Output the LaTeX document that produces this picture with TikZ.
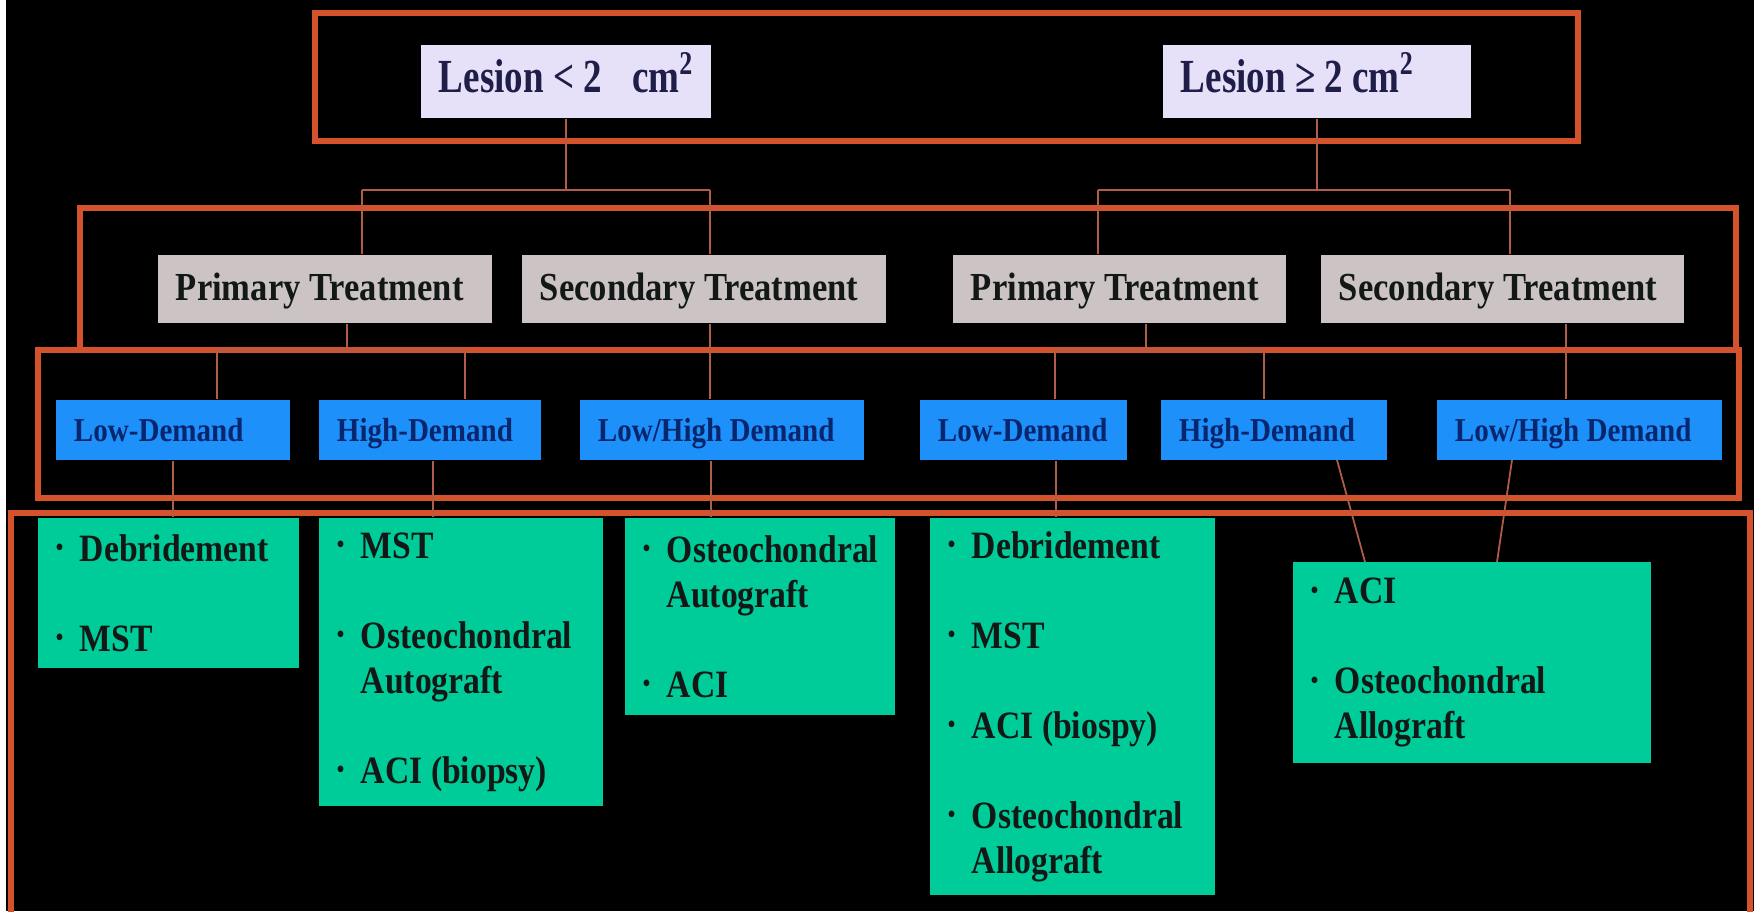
\documentclass[tikz,border=0pt]{standalone}
\usepackage{fontspec}
\setmainfont{Liberation Serif}[FakeStretch=0.87]
\newfontfamily\narrowfont{Liberation Serif}[FakeStretch=0.78]
\definecolor{frm}{RGB}{212,82,44}
\definecolor{lnk}{RGB}{176,92,72}
\definecolor{lav}{RGB}{230,224,248}
\definecolor{gry}{RGB}{204,196,196}
\definecolor{dblue}{RGB}{30,144,250}
\definecolor{opg}{RGB}{0,204,153}
\definecolor{navy}{RGB}{30,30,72}
\definecolor{dtext}{RGB}{8,38,110}
\definecolor{ink}{RGB}{18,24,22}
\tikzstyle{fr}=[draw=frm, line width=1.6pt]
\tikzstyle{ln}=[draw=lnk, line width=0.5pt]
\tikzstyle{bx}=[shape=rectangle, align=flush left, inner xsep=0.18cm, inner ysep=0pt]
\tikzstyle{lz}=[bx, fill=lav, text=navy, minimum height=0.73cm, text height=1.6ex, text depth=0.2ex, font=\narrowfont\fontsize{13.5}{15}\selectfont\bfseries]
\tikzstyle{tr}=[bx, fill=gry, text=ink, minimum height=0.68cm, text height=1.6ex, text depth=0.2ex, font=\fontsize{11.3}{13}\selectfont\bfseries]
\tikzstyle{dm}=[bx, fill=dblue, text=dtext, minimum height=0.6cm, text height=1.6ex, text depth=0.2ex, font=\fontsize{9.5}{11}\selectfont\bfseries]
\tikzstyle{op}=[bx, fill=opg, text=ink, font=\fontsize{11}{12.8}\selectfont\bfseries]
\newcommand{\itm}{\makebox[0.24cm][l]{\raisebox{0.3ex}{\scriptsize\textbullet}}}
\newcommand{\gap}{\\[12.8pt]}

\begin{document}
\begin{tikzpicture}[x=0.01cm, y=-0.01cm]
\useasboundingbox (0,0) rectangle (1754,911);
\fill[black] (0,0) rectangle (1754,911);
\fill[white] (0,0) rectangle (6,911);
% frames
\draw[fr] (315,13) rectangle (1578,141);
\draw[fr] (80,208) rectangle (1736,350);
\draw[fr] (38,350) rectangle (1739,498);
\draw[fr] (11,930) -- (11,513) -- (1750,513) -- (1750,930);
% lesion size
\draw (566,81.5) node[lz, text width=2.54cm](lz1) {\mbox{Lesion < 2\hspace{0.3cm}cm\textsuperscript{2}}};
\draw (1317,81.5) node[lz, text width=2.72cm](lz2) {\mbox{Lesion ≥ 2 cm\textsuperscript{2}}};
% treatment
\draw (325,289) node[tr, text width=2.98cm](tr1) {Primary Treatment};
\draw (704,289) node[tr, text width=3.28cm](tr2) {Secondary Treatment};
\draw (1119.5,289) node[tr, text width=2.97cm](tr3) {Primary Treatment};
\draw (1502.5,289) node[tr, text width=3.27cm](tr4) {Secondary Treatment};
% demand
\draw (173,430) node[dm, text width=1.98cm](dm1) {Low-Demand};
\draw (430,430) node[dm, text width=1.86cm](dm2) {High-Demand};
\draw (722,430) node[dm, text width=2.48cm](dm3) {Low/High Demand};
\draw (1023.5,430) node[dm, text width=1.71cm](dm4) {Low-Demand};
\draw (1274,430) node[dm, text width=1.90cm](dm5) {High-Demand};
\draw (1579.5,430) node[dm, text width=2.49cm](dm6) {Low/High Demand};
% options
\draw (168.5,593) node[op, text width=2.25cm, minimum height=1.50cm](op1)
  {\itm Debridement\gap \itm MST};
\draw (461,662) node[op, text width=2.48cm, minimum height=2.88cm](op2)
  {\itm MST\gap \itm Osteochondral\\ \hspace*{0.24cm}Autograft\gap \itm ACI (biopsy)};
\draw (760,616.5) node[op, text width=2.34cm, minimum height=1.97cm](op3)
  {\itm Osteochondral\\ \hspace*{0.24cm}Autograft\gap \itm ACI};
\draw (1072.5,706.5) node[op, text width=2.49cm, minimum height=3.77cm](op4)
  {\itm Debridement\gap \itm MST\gap \itm ACI (biospy)\gap \itm Osteochondral\\ \hspace*{0.24cm}Allograft};
\draw (1472,662.5) node[op, text width=3.22cm, minimum height=2.01cm](op5)
  {\itm ACI\gap \itm Osteochondral\\ \hspace*{0.24cm}Allograft};
% connectors
\coordinate (j1) at (362,190);
\coordinate (j2) at (710,190);
\coordinate (j3) at (1098,190);
\coordinate (j4) at (1510,190);
\draw[ln] (lz1) -- (lz1 |- j1);
\draw[ln] (j1) -- (j2);
\draw[ln] (j1) -- (j1 |- tr1.north);
\draw[ln] (j2) -- (j2 |- tr2.north);
\draw[ln] (lz2) -- (lz2 |- j3);
\draw[ln] (j3) -- (j4);
\draw[ln] (j3) -- (j3 |- tr3.north);
\draw[ln] (j4) -- (j4 |- tr4.north);
\coordinate (m1) at (347,350);
\coordinate (m2) at (217,350);
\coordinate (m3) at (465,350);
\coordinate (m4) at (1146,350);
\coordinate (m5) at (1055,350);
\coordinate (m6) at (1264,350);
\draw[ln] (m1 |- tr1.south) -- (m1);
\draw[ln] (m2) -- (m3);
\draw[ln] (m2) -- (m2 |- dm1.north);
\draw[ln] (m3) -- (m3 |- dm2.north);
\draw[ln] (j2 |- tr2.south) -- (j2 |- dm3.north);
\draw[ln] (m4 |- tr3.south) -- (m4);
\draw[ln] (m5) -- (m6);
\draw[ln] (m5) -- (m5 |- dm4.north);
\draw[ln] (m6) -- (m6 |- dm5.north);
\draw[ln] (1566,0 |- tr4.south) -- (1566,0 |- dm6.north);
\coordinate (k1) at (711,0);
\coordinate (k2) at (1056,0);
\draw[ln] (dm1.south) -- (dm1.south |- op1.north);
\draw[ln] (433,0 |- dm2.south) -- (433,0 |- op2.north);
\draw[ln] (k1 |- dm3.south) -- (k1 |- op3.north);
\draw[ln] (k2 |- dm4.south) -- (k2 |- op4.north);
\coordinate (h1) at (1337,460);
\coordinate (h2) at (1365,562);
\coordinate (h3) at (1512,460);
\coordinate (h4) at (1497,562);
\draw[ln] (h1) -- (h2);
\draw[ln] (h3) -- (h4);
\end{tikzpicture}
\end{document}
